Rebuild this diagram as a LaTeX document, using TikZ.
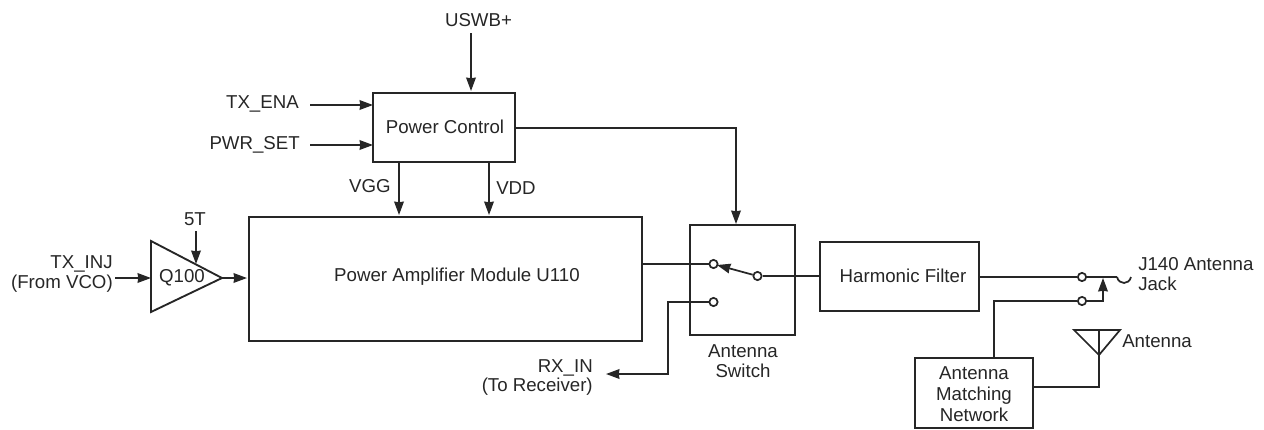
\documentclass[tikz,border=0pt]{standalone}
\usepackage{fontspec}
\setmainfont{Liberation Sans}
\usetikzlibrary{arrows.meta,calc}
\tikzset{
  x=0.75pt,y=-0.75pt,
  ink/.style={draw=black!85,line width=1.4pt},
  blockbox/.style={ink,fill=white,rectangle,inner sep=0pt},
  lbl/.style={font=\fontsize{14pt}{15pt}\selectfont,inner sep=0pt,text=black!85,align=center},
  lblr/.style={lbl,anchor=east,align=right},
  lbll/.style={lbl,anchor=west,align=left},
  contact/.style={circle,draw=black!85,line width=1.3pt,fill=white,minimum size=6.2pt,inner sep=0pt},
  wire/.style={ink,line width=1.3pt},
  tip/.style={-{Stealth[length=10pt,width=7.2pt,inset=0.4pt]}},
  arr/.style={wire,tip},
}
\begin{document}
\begin{tikzpicture}
\useasboundingbox (0,0) rectangle (1264,429);
% blocks
\node[blockbox,minimum width=106.5pt,minimum height=51.75pt] (pc) at (444,127.5) {};
\node[blockbox,minimum width=294.75pt,minimum height=93pt] (pa) at (445.5,279) {};
\node[blockbox,minimum width=78.75pt,minimum height=82.5pt] (sw) at (742.5,280) {};
\node[blockbox,minimum width=119.25pt,minimum height=51.75pt] (hf) at (899.5,276.5) {};
\node[blockbox,minimum width=88.5pt,minimum height=52pt] (amn) at (974,393) {};
\draw[ink,fill=white] (151,241) coordinate (qa) -- (151,312) coordinate (qb) -- (222,278) coordinate (qc) -- cycle;
% texts in blocks
\node[lbl] (t1) at (445,127) {Power Control};
\node[lbl] (t2) at (457,277) {Power Amplifier Module U110};
\node[lbl] (t3) at (903,276) {Harmonic Filter};
\node[lbl] (t4) at (974,394) {Antenna\\[1pt]Matching\\[.5pt]Network};
\node[lbl] (q) at (182,278) {Q100};
% free ends and bends
\coordinate (uswbend) at (471,33);
\coordinate (txs) at (310,105);
\coordinate (pws) at (310,145);
\coordinate (pctop) at (471,91);
\coordinate (pctx) at (373,105);
\coordinate (pcpw) at (373,145);
\coordinate (vggs) at (399,162);
\coordinate (vgge) at (399,215);
\coordinate (vdds) at (489,162);
\coordinate (vdde) at (489,215);
\coordinate (injs) at (115,278);
\coordinate (qin) at (151,278);
\coordinate (pain) at (247,278);
\coordinate (fivet) at (196,231);
\coordinate (qtop) at (196,264);
\coordinate (swtop) at (736,224);
\coordinate (pcr) at (515,128);
% contacts
\node[contact] (c1) at (713.5,264) {};
\node[contact] (c2) at (757.5,276) {};
\node[contact] (c3) at (713.5,302) {};
\node[contact] (c4) at (1082,277) {};
\node[contact] (c5) at (1082,301) {};
% labels
\node[lbl] (l1) at (478.5,20) {USWB+};
\node[lblr] (l2) at (299,104) {TX\_ENA};
\node[lblr] (l3) at (300,145) {PWR\_SET};
\node[lbl,anchor=east] (l4) at (391,186) {VGG};
\node[lbl,anchor=west] (l5) at (496,188) {VDD};
\node[lbl] (l6) at (195,219) {5T};
\node[lblr] (l7) at (113,274) {TX\_INJ\\[0pt](From VCO)};
\node[lbl,anchor=east] (l8) at (593,368) {RX\_IN};
\node[lbl,anchor=east] (l9) at (593,387) {(To Receiver)};
\node[lbl] (l10) at (743,361) {Antenna\\[.5pt]Switch};
\node[lbll] (l11) at (1138,274) {J140 Antenna\\[0pt]Jack};
\node[lbll] (l12) at (1122,341) {Antenna};
% connectors
\draw[arr] (uswbend) -- (pctop);
\draw[arr] (txs) -- (pctx);
\draw[arr] (pws) -- (pcpw);
\draw[arr] (vggs) -- (vgge);
\draw[arr] (vdds) -- (vdde);
\draw[arr] (pcr) -- (736,128) -- (swtop);
\draw[arr] (injs) -- (qin);
\draw[arr] (qc) -- (pain);
\draw[arr] (fivet) -- (qtop);
\draw[wire] (642,264) -- (c1);
\draw[arr] (c3) -- (668,302) -- (668,374) -- (606,374);
\draw[wire] (c2) -- (hf.west |- c2);
\draw[arr] (c2) -- ($(c1)+(3.5,1)$);
\draw[wire] (hf.east |- c4) -- (c4);
\coordinate (jacka) at (1117,277);
\draw[wire] (c4) -- (jacka);
\draw[wire] (jacka) .. controls (1119,285) and (1129,285) .. (1131,277);
\draw[wire] (994,358) -- (994,301) -- (c5);
\draw[arr] (c5) -- (1103,301) -- (1103,278);
\coordinate (anttip) at (1099,355);
\draw[wire] (1033,387) -- (1099,387) -- (anttip);
\draw[wire,line join=miter] (1074,330) -- (1120,330) -- (anttip) -- cycle;
\draw[wire] (1099,330) -- (anttip);
\end{tikzpicture}
\end{document}
